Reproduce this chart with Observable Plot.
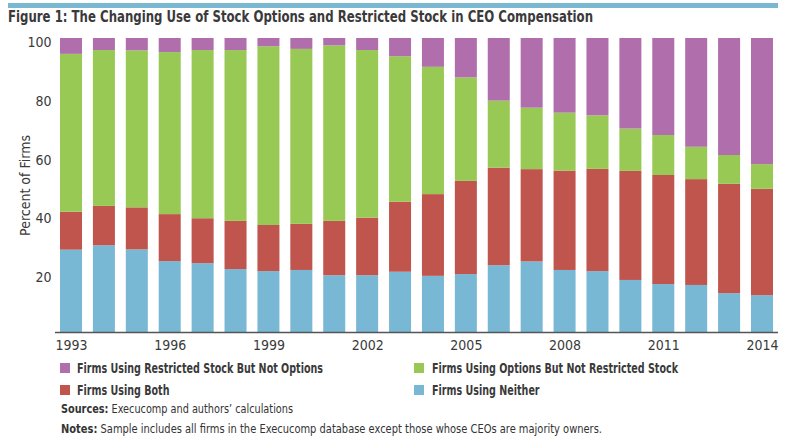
<!DOCTYPE html>
<html>
<head>
<meta charset="utf-8">
<script src="https://cdn.jsdelivr.net/npm/d3@7"></script>
<script src="https://cdn.jsdelivr.net/npm/@observablehq/plot@0.6"></script>
<style>
  html, body { margin: 0; padding: 0; background: #fff; }
  #page { position: relative; width: 786px; height: 436px; overflow: hidden;
          font-family: "Liberation Sans Narrow", "DejaVu Sans Condensed", "Liberation Sans", sans-serif; color: #3a3a3a; }
  #stripe { position: absolute; left: 8px; top: 3px; width: 770px; height: 4.5px; background: #7ab7d0; }
  .fit { position: absolute; white-space: nowrap; display: inline-block; transform-origin: 0 0; }
  #title { left: 8px; top: 8px; font-size: 15.5px; line-height: 18px; font-weight: bold; color: #3a3a3a; }
  #chart { position: absolute; left: 0; top: 28px; }
  .sw { position: absolute; width: 10px; height: 10px; }
  .leg { font-size: 14px; line-height: 16px; font-weight: bold; color: #3a3a3a; }
  .note { font-size: 11.5px; line-height: 14px; color: #333; }
  .note b { font-weight: bold; }
</style>
</head>
<body>
<div id="page">
  <div id="stripe"></div>
  <div id="title" class="fit">Figure 1: The Changing Use of Stock Options and Restricted Stock in CEO Compensation</div>
  <div id="chart"></div>
  <div id="legend"></div>
  <div id="src" class="fit note" style="left:61px; top:402px;"><b>Sources:</b> Execucomp and authors’ calculations</div>
  <div id="notes" class="fit note" style="left:61px; top:422px;"><b>Notes:</b> Sample includes all firms in the Execucomp database except those whose CEOs are majority owners.</div>
</div>
<script>
// ---- Data (percent of firms) ----
const years = [1993,1994,1995,1996,1997,1998,1999,2000,2001,2002,2003,2004,2005,2006,2007,2008,2009,2010,2011,2012,2013,2014];
const neither        = [28.0,29.5,28.1,24.1,23.4,21.4,20.7,21.1,19.3,19.3,20.5,19.1,19.7,22.7,24.0,21.1,20.7,17.7,16.3,16.0,13.2,12.5];
const both           = [12.9,13.4,14.3,16.0,15.3,16.4,15.7,15.7,18.5,19.6,23.8,27.8,31.7,33.2,31.4,33.8,34.8,37.1,37.1,36.0,37.2,36.2];
const optionsOnly    = [53.7,53.0,53.4,55.1,57.2,58.1,60.8,59.5,59.7,57.0,49.5,43.3,35.2,22.8,20.9,19.7,18.2,14.4,13.6,11.0, 9.8, 8.4];
const restrictedOnly = [ 5.4, 4.1, 4.2, 4.8, 4.1, 4.1, 2.8, 3.7, 2.5, 4.1, 6.2, 9.8,13.4,21.3,23.7,25.4,26.3,30.8,33.0,37.0,39.8,42.9];

const seriesNames = [
  "Firms Using Neither",
  "Firms Using Both",
  "Firms Using Options But Not Restricted Stock",
  "Firms Using Restricted Stock But Not Options"
];
const seriesColors = ["#79b8d4", "#c0554e", "#97c954", "#b06fac"];
const yTicks = [20, 40, 60, 80, 100];
const xTicks = [1993, 1996, 1999, 2002, 2005, 2008, 2011, 2014];
const yLabel = "Percent of Firms";

// legend order as displayed: [row][col]
const legendOrder = [
  ["Firms Using Restricted Stock But Not Options", "Firms Using Options But Not Restricted Stock"],
  ["Firms Using Both", "Firms Using Neither"]
];

const seriesValues = [neither, both, optionsOnly, restrictedOnly];
const data = years.flatMap((yr, i) =>
  seriesNames.map((s, k) => ({year: yr, series: s, value: seriesValues[k][i]}))
);

const chart = Plot.plot({
  width: 786,
  height: 332,
  marginTop: 10,
  marginBottom: 28,
  marginLeft: 55,
  marginRight: 8,
  style: {fontFamily: '"Liberation Sans Narrow", "DejaVu Sans Condensed", "Liberation Sans", sans-serif', fontSize: "14px", color: "#3a3a3a", background: "transparent"},
  x: {type: "band", domain: years, paddingInner: 0.331, paddingOuter: 0.152, round: false, axis: null},
  y: {domain: [0, 100], axis: null},
  color: {domain: seriesNames, range: seriesColors},
  marks: [
    Plot.barY(data, {x: "year", y: "value", fill: "series"}),
    Plot.ruleY([0], {stroke: "#555", strokeWidth: 1.5}),
    Plot.axisX({ticks: xTicks, tickSize: 0, tickPadding: 8, label: null, tickFormat: d => String(d), fontSize: 14}),
    Plot.axisY({ticks: yTicks, tickSize: 0, tickPadding: 4, dy: 4, label: yLabel, labelAnchor: "center", labelArrow: "none", labelOffset: 35, fontSize: 14})
  ]
});
document.getElementById("chart").appendChild(chart);

// ---- Legend (HTML) ----
const legend = document.getElementById("legend");
const rowTop = [362, 384];
const colSwatchX = [60, 414];
const colTextX = [77, 432];
const colorOf = Object.fromEntries(seriesNames.map((s, i) => [s, seriesColors[i]]));
legendOrder.forEach((row, r) => row.forEach((name, c) => {
  const sw = document.createElement("div");
  sw.className = "sw";
  sw.style.left = colSwatchX[c] + "px";
  sw.style.top = (rowTop[r] + 1) + "px";
  sw.style.background = colorOf[name];
  legend.appendChild(sw);
  const t = document.createElement("div");
  t.className = "fit leg";
  t.style.left = colTextX[c] + "px";
  t.style.top = (rowTop[r] - 2) + "px";
  t.textContent = name;
  t.dataset.r = r; t.dataset.c = c;
  legend.appendChild(t);
}));

function fit(el, w) {
  el.style.transform = "none";
  const cur = el.getBoundingClientRect().width;
  if (cur > 0) el.style.transform = `scaleX(${w / cur})`;
}
function doFit() {
  fit(document.getElementById("title"), 585);
  fit(document.getElementById("src"), 232);
  fit(document.getElementById("notes"), 541);
  const legs = [...document.querySelectorAll(".leg")];
  const ref = legs.find(e => e.dataset.r === "0" && e.dataset.c === "0");
  ref.style.transform = "none";
  const k = 246 / ref.getBoundingClientRect().width;
  legs.forEach(e => e.style.transform = `scaleX(${k})`);
}
doFit();
if (document.fonts && document.fonts.ready) document.fonts.ready.then(doFit);
</script>
</body>
</html>
